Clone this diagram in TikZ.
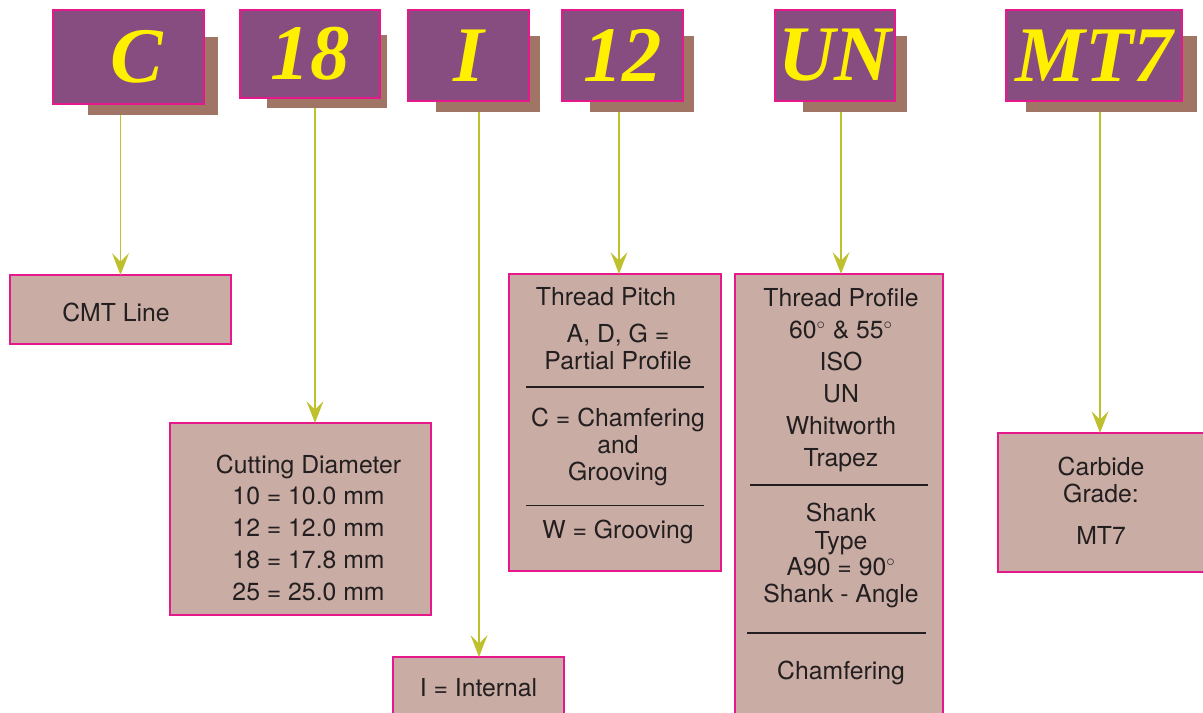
\documentclass[tikz,border=0pt]{standalone}
\usepackage{fontspec}
\setmainfont{TeX Gyre Heros}
\newfontfamily\codefont{Liberation Serif}
\usetikzlibrary{arrows.meta}
\definecolor{cmtpurple}{RGB}{135,76,128}
\definecolor{cmtmagenta}{RGB}{230,25,140}
\definecolor{cmtshadow}{RGB}{160,117,101}
\definecolor{cmtrose}{RGB}{201,172,163}
\definecolor{cmtlime}{RGB}{190,192,45}
\definecolor{cmtyellow}{RGB}{255,240,0}
\definecolor{darktext}{RGB}{35,31,32}

\begin{document}
\begin{tikzpicture}[x=0.025cm, y=-0.025cm,
  codebox/.style={rectangle, inner sep=0pt, outer sep=0pt, fill=cmtpurple, draw=cmtmagenta, line width=1.4pt, text=cmtyellow, font=\codefont\bfseries\itshape\fontsize{56}{60}\selectfont},
  shadowbox/.style={rectangle, inner sep=0pt, outer sep=0pt, fill=cmtshadow},
  infobox/.style={rectangle, inner sep=0pt, outer sep=0pt, fill=cmtrose, draw=cmtmagenta, line width=1pt},
  infotext/.style={anchor=base, inner sep=0pt, text=darktext, font=\fontsize{17.6}{20}\selectfont},
  link/.style={draw=cmtlime, line width=1.1pt, -{Stealth[length=15.5pt, width=12pt, inset=6pt]}},
  rule/.style={darktext, line width=1.3pt}]

\useasboundingbox (0,0) rectangle (1203,712);
\clip (0,0) rectangle (1203,712);

% shadows behind the code letters
\node[shadowbox, minimum width=3.25cm, minimum height=1.95cm] (sC) at (153,76) {};
\node[shadowbox, minimum width=3.0cm, minimum height=1.825cm] (s18) at (327,71.5) {};
\node[shadowbox, minimum width=2.6cm, minimum height=1.9cm] (sI) at (488,74) {};
\node[shadowbox, minimum width=2.6cm, minimum height=1.9cm] (s12) at (642,74) {};
\node[shadowbox, minimum width=2.6cm, minimum height=1.9cm] (sUN) at (855,74) {};
\node[shadowbox, minimum width=4.275cm, minimum height=1.9cm] (sMT) at (1111.5,74) {};

% code letters
\node[codebox, minimum width=3.775cm, minimum height=2.35cm] (tC) at (128.5,57) {\kern0.4cm C};
\node[codebox, minimum width=3.5cm, minimum height=2.2cm] (t18) at (310,54) {18};
\node[codebox, minimum width=3.025cm, minimum height=2.275cm] (tI) at (468.5,55.5) {I};
\node[codebox, minimum width=3.025cm, minimum height=2.275cm] (t12) at (622.5,55.5) {12};
\node[codebox, minimum width=3.0cm, minimum height=2.275cm] (tUN) at (835,55.5) {UN};
\node[codebox, minimum width=4.4cm, minimum height=2.275cm] (tMT) at (1094,55.5) {MT7};

% meaning boxes
\node[infobox, minimum width=5.525cm, minimum height=1.725cm] (cmt) at (120.5,309.5) {};
\node[infobox, minimum width=6.525cm, minimum height=4.8cm] (cut) at (300.5,519) {};
\node[infobox, minimum width=4.275cm, minimum height=1.825cm] (int) at (478.5,693.5) {};
\node[infobox, minimum width=5.3cm, minimum height=7.425cm] (pitch) at (615,422.5) {};
\node[infobox, minimum width=5.2cm, minimum height=11.65cm] (prof) at (839,507) {};
\node[infobox, minimum width=5.3cm, minimum height=3.475cm] (carb) at (1104,502.5) {};

% texts
\node[infotext] (cmt-1) at (116,321.7) {CMT Line};
\node[infotext] (int-1) at (478.5,696) {I = Internal};
\foreach \i/\y/\t in {1/473/Cutting Diameter, 2/504/10 = 10.0 mm, 3/536.5/12 = 12.0 mm, 4/568/18 = 17.8 mm, 5/600/25 = 25.0 mm}
  \node[infotext] (cut-\i) at (308.5,\y) {\t};
\node[infotext] (pitch-1) at (606,305.7) {Thread Pitch};
\foreach \i/\y/\t in {2/342.7/{A, D, G =}, 3/369/Partial Profile, 4/426.7/C = Chamfering, 5/453.3/and, 6/480/Grooving, 7/538.3/W = Grooving}
  \node[infotext] (pitch-\i) at (618,\y) {\t};
\foreach \i/\y/\t in {1/306.5/Thread Profile, 2/338.5/{60$^\circ$ \& 55$^\circ$}, 3/370.5/ISO, 4/402.5/UN, 5/434.5/Whitworth, 6/466.5/Trapez, 7/521.7/Shank, 8/549/Type, 9/575.7/{A90 = 90$^\circ$}, 10/602.7/Shank - Angle, 11/679.3/Chamfering}
  \node[infotext] (prof-\i) at (841,\y) {\t};
\foreach \i/\y/\t in {1/475/Carbide, 2/502.7/Grade:, 3/544/MT7}
  \node[infotext] (carb-\i) at (1101,\y) {\t};

% separators
\draw[rule] (526,387) -- (704,387);
\draw[rule] (526,505.5) -- (704,505.5);
\draw[rule] (750,485) -- (928,485);
\draw[rule] (747,633) -- (926,633);

% arrows
\foreach \s/\b/\x in {sC/cmt/120.5, s18/cut/315, sI/int/479, s12/pitch/619, sUN/prof/841, sMT/carb/1100}
  \draw[link] (\s.south -| \x,0) -- (\b.north -| \x,0);

\end{tikzpicture}
\end{document}
